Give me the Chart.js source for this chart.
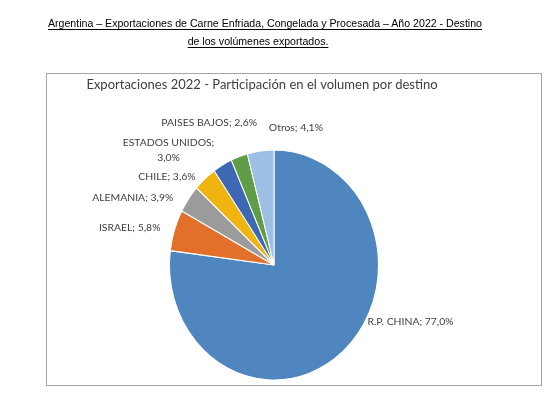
<!DOCTYPE html>
<html>
<head>
<meta charset="utf-8">
<script src="https://cdn.jsdelivr.net/npm/chart.js@4.4.1/dist/chart.umd.min.js"></script>
<style>
body { margin: 0; background: #fff; }
#wrap { position: relative; width: 547px; height: 396px; }
canvas { position: absolute; left: 0; top: 0; }
.head {
    position: absolute; left: 0; text-align: center;
    font-family: 'Liberation Sans', Arial, sans-serif; font-size: 10.6px; color: #000;
    text-decoration: underline; text-underline-offset: 2px; white-space: nowrap;
}
</style>
</head>
<body>
<div id="wrap">
    <canvas id="myChart" width="547" height="396"></canvas>
    <div class="head" style="top:17px; width:530px">Argentina – Exportaciones de Carne Enfriada, Congelada y Procesada – Año 2022 - Destino</div>
    <div class="head" style="top:35px; width:516px">de los volúmenes exportados.</div>
</div>
<script>
const destinos = ['R.P. CHINA', 'ISRAEL', 'ALEMANIA', 'CHILE', 'ESTADOS UNIDOS', 'PAISES BAJOS', 'Otros'];
const participacion = [77.0, 5.8, 3.9, 3.6, 3.0, 2.6, 4.1];
const colores = ['#4F86C0', '#E2702B', '#9B9B9B', '#F0B410', '#3E68B3', '#5F9E46', '#9CBFE3'];

const chartTitle = 'Exportaciones 2022 - Participación en el volumen por destino';
const stretchY = 1.1;
const labelFont = '10.4px Lato';
const textColor = '#404040';
// nudges for the data labels, like Excel's "best fit" placement
const labelNudge = [[16, -40], [-2, 2], [-5, 7], [-1, 8], [-2, -3], [22, -21], [64, -10]];
const wrapAfterSemicolon = [4];

const frame = {
    id: 'frame',
    beforeDraw(chart) {
        const c = chart.ctx;
        c.save();
        c.strokeStyle = '#A6A6A6';
        c.lineWidth = 1;
        c.strokeRect(46.5, 73.5, 495, 312);
        c.fillStyle = textColor;
        c.font = '13px Lato';
        c.textAlign = 'center';
        c.textBaseline = 'middle';
        c.fillText(chartTitle, 262, 85);
        c.restore();
    }
};

const ellipse = {
    id: 'ellipse',
    beforeDatasetsDraw(chart) {
        const a = chart.getDatasetMeta(0).data[0];
        const c = chart.ctx;
        c.save();
        c.translate(a.x, a.y);
        c.scale(1, stretchY);
        c.translate(-a.x, -a.y);
    },
    afterDatasetsDraw(chart) {
        chart.ctx.restore();
    }
};

const dataLabels = {
    id: 'dataLabels',
    afterDraw(chart) {
        const c = chart.ctx;
        const meta = chart.getDatasetMeta(0);
        c.save();
        c.font = labelFont;
        c.fillStyle = textColor;
        c.textBaseline = 'middle';
        meta.data.forEach(function(arc, i) {
            const mid = (arc.startAngle + arc.endAngle) / 2;
            const r = arc.outerRadius * 1.12;
            const ax = arc.x + Math.cos(mid) * r + labelNudge[i][0];
            const ay = arc.y + Math.sin(mid) * r * stretchY + labelNudge[i][1];
            const value = participacion[i].toFixed(1).replace('.', ',') + '%';
            const lines = wrapAfterSemicolon.includes(i)
                ? [destinos[i] + ';', value]
                : [destinos[i] + '; ' + value];
            const w = Math.max.apply(null, lines.map(function(t) { return c.measureText(t).width; }));
            const left = Math.cos(mid) < 0 ? ax - w : ax;
            const lh = 15;
            const top = ay - (lines.length - 1) * lh / 2;
            c.textAlign = 'center';
            lines.forEach(function(t, k) {
                c.fillText(t, left + w / 2, top + k * lh);
            });
        });
        c.restore();
    }
};

const ctx = document.getElementById('myChart').getContext('2d');
const myChart = new Chart(ctx, {
    type: 'pie',
    data: {
        labels: destinos,
        datasets: [{
            data: participacion,
            backgroundColor: colores,
            borderColor: '#ffffff',
            borderWidth: 1
        }]
    },
    options: {
        responsive: false,
        animation: false,
        events: [],
        layout: {
            padding: { left: 169, right: 168, top: 160, bottom: 26 }
        },
        plugins: {
            legend: { display: false },
            title: { display: false },
            tooltip: { enabled: false }
        }
    },
    plugins: [frame, ellipse, dataLabels]
});
</script>
</body>
</html>
